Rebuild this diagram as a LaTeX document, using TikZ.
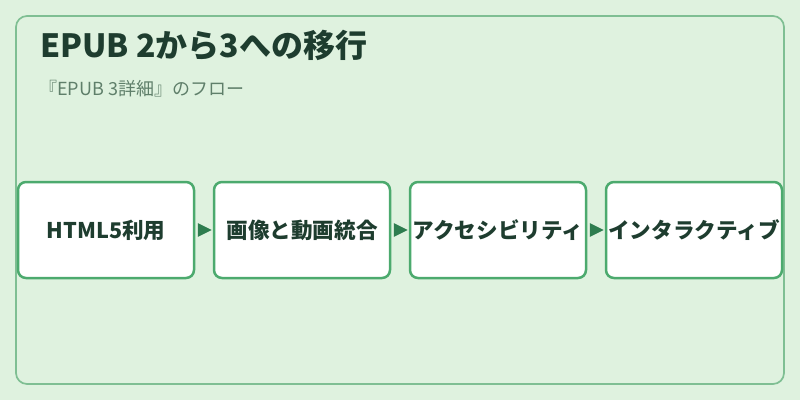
\documentclass[tikz,border=0pt]{standalone}
\usepackage{fontspec}
\setmainfont{Noto Sans CJK JP}
\usetikzlibrary{arrows.meta}
\definecolor{bgc}{HTML}{DFF2DF}
\definecolor{outerc}{HTML}{7FBF93}
\definecolor{boxc}{HTML}{4CAA6E}
\definecolor{arrc}{HTML}{2E7D4F}
\definecolor{titlec}{HTML}{1E3D2F}
\definecolor{subc}{HTML}{5F7F6A}
\tikzset{
  stepbox/.style={draw=boxc, line width=2.5pt, fill=white, rounded corners=8pt,
    minimum width=176pt, minimum height=96pt, inner sep=0pt,
    font=\fontsize{21.6}{24}\selectfont\bfseries, text=titlec},
  flow/.style={draw=arrc, line width=1pt, -{Triangle[length=14pt 0 0,width=13.5pt 0 0]},
    shorten >=1pt, shorten <=3pt},
}
\begin{document}
\begin{tikzpicture}[x=1pt,y=-1pt]
\useasboundingbox (0,0) rectangle (800,400);
\fill[bgc] (0,0) rectangle (800,400);
\draw[outerc, line width=1.7pt, rounded corners=11pt] (16,16) rectangle (784,384);
\node[anchor=base west, inner sep=0pt, text=titlec, font=\fontsize{32}{36}\selectfont\bfseries] (title) at (40,57) {EPUB 2から3への移行};
\node[anchor=base west, inner sep=0pt, text=subc, font=\fontsize{18}{20}\selectfont] (sub) at (39,95) {『EPUB 3詳細』のフロー};
\node[stepbox] (b1) at (106,230) {HTML5利用};
\node[stepbox] (b2) at (302,230) {画像と動画統合};
\node[stepbox] (b3) at (498,230) {アクセシビリティ};
\node[stepbox] (b4) at (694,230) {インタラクティブ};
\draw[flow] (b1.east) -- (b2.west);
\draw[flow] (b2.east) -- (b3.west);
\draw[flow] (b3.east) -- (b4.west);
\end{tikzpicture}
\end{document}
